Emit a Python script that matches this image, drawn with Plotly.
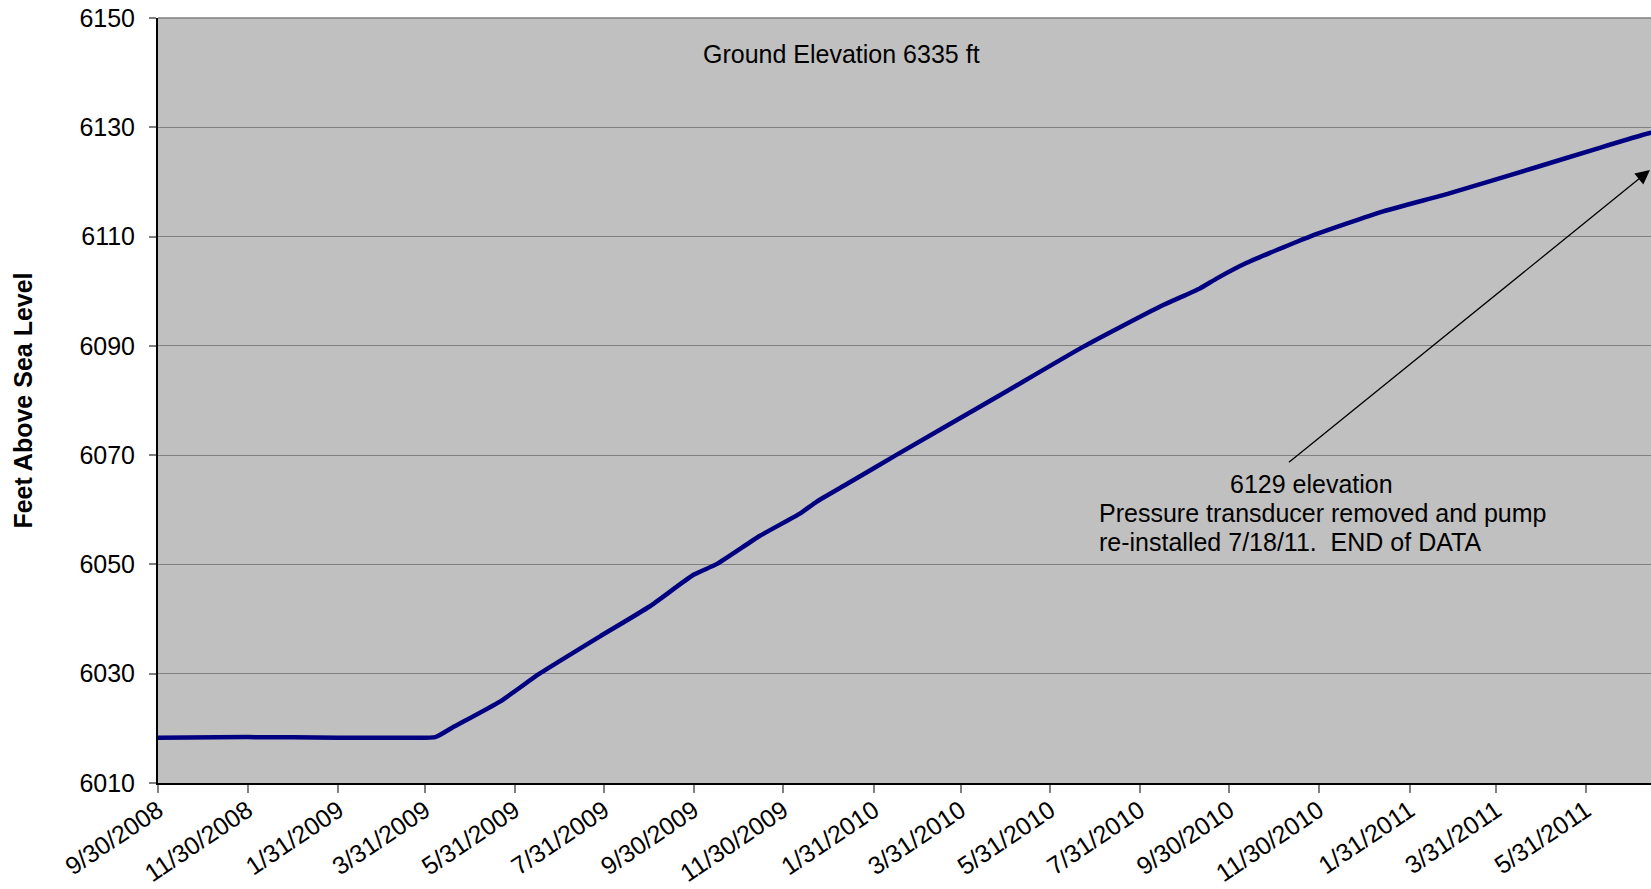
import plotly.graph_objects as go

# Data
dates = [
    "2008-09-30", "2008-11-30", "2009-01-31", "2009-03-15", "2009-04-07",
    "2009-04-19", "2009-05-21", "2009-06-17", "2009-07-28", "2009-08-31",
    "2009-09-30", "2009-10-16", "2009-11-14", "2009-12-12", "2009-12-23",
    "2010-01-13", "2010-02-15", "2010-04-27", "2010-06-23", "2010-08-14",
    "2010-09-10", "2010-09-22", "2010-10-12", "2010-11-24", "2011-01-13",
    "2011-02-27", "2011-04-25", "2011-06-09", "2011-07-13", "2011-07-18",
]
elevation_ft = [
    6018.3, 6018.4, 6018.3, 6018.3, 6018.4,
    6020.2, 6024.9, 6030.0, 6036.8, 6042.3,
    6048.1, 6050.1, 6055.2, 6059.4, 6061.5,
    6064.8, 6070.0, 6081.0, 6089.9, 6097.2,
    6100.5, 6102.4, 6105.2, 6110.0, 6114.6,
    6117.9, 6122.5, 6126.2, 6128.9, 6129.2,
]

x_tick_vals = [
    "2008-09-30", "2008-11-30", "2009-01-31", "2009-03-31", "2009-05-31",
    "2009-07-31", "2009-09-30", "2009-11-30", "2010-01-31", "2010-03-31",
    "2010-05-31", "2010-07-31", "2010-09-30", "2010-11-30", "2011-01-31",
    "2011-03-31", "2011-05-31",
]
x_tick_text = [
    "9/30/2008", "11/30/2008", "1/31/2009", "3/31/2009", "5/31/2009",
    "7/31/2009", "9/30/2009", "11/30/2009", "1/31/2010", "3/31/2010",
    "5/31/2010", "7/31/2010", "9/30/2010", "11/30/2010", "1/31/2011",
    "3/31/2011", "5/31/2011",
]
y_tick_vals = [6010, 6030, 6050, 6070, 6090, 6110, 6130, 6150]

FONT = "Liberation Sans, Arial, sans-serif"

fig = go.Figure()
fig.add_trace(go.Scatter(
    x=dates, y=elevation_ft, mode="lines",
    line=dict(color="#000080", width=4.5, shape="spline", smoothing=0.5),
    showlegend=False, hoverinfo="x+y",
))

fig.update_layout(
    width=1651, height=889,
    margin=dict(l=158, r=0, t=18, b=106, pad=0),
    paper_bgcolor="white",
    plot_bgcolor="#C0C0C0",
    font=dict(family=FONT, size=25, color="black"),
    showlegend=False,
)

fig.update_xaxes(
    type="date",
    range=["2008-09-30", "2011-07-14 12:00"],
    tickmode="array", tickvals=x_tick_vals, ticktext=x_tick_text,
    tickangle=-34,
    ticks="outside", ticklen=8, tickwidth=1.5, tickcolor="#808080",
    tickfont=dict(family=FONT, size=25, color="black"),
    ticklabelstandoff=-7,
    showline=True, linecolor="black", linewidth=2,
    showgrid=False, zeroline=False, automargin=False,
)

fig.update_yaxes(
    range=[6010, 6150],
    tickmode="array", tickvals=y_tick_vals,
    ticks="outside", ticklen=7, tickwidth=1.5, tickcolor="#808080",
    tickfont=dict(family=FONT, size=25, color="black"),
    ticklabelstandoff=9, ticklabeloverflow="allow",
    showline=True, linecolor="black", linewidth=2,
    showgrid=True, gridcolor="#808080", gridwidth=1.2,
    zeroline=False, automargin=False,
    title=dict(text="<b>Feet Above Sea Level</b>",
               font=dict(family=FONT, size=25, color="black"), standoff=40),
)

# top border of the plot area (gray, like the gridlines)
fig.add_shape(type="line", xref="paper", yref="paper", x0=0, x1=1, y0=1, y1=1,
              line=dict(color="#808080", width=1.5), layer="above")

fig.add_annotation(
    text="Ground Elevation 6335 ft", xref="paper", yref="paper",
    x=0.458, y=0.953, xanchor="center", yanchor="middle",
    showarrow=False, font=dict(family=FONT, size=25, color="black"),
)
fig.add_annotation(
    text="6129 elevation", xref="paper", yref="paper",
    x=0.7723, y=0.3915, xanchor="center", yanchor="middle",
    showarrow=False, font=dict(family=FONT, size=25, color="black"),
)
fig.add_annotation(
    text="Pressure transducer removed and pump", xref="paper", yref="paper",
    x=0.629, y=(783 - 512.8) / 765, xanchor="left", yanchor="middle",
    showarrow=False, font=dict(family=FONT, size=25, color="black"),
)
fig.add_annotation(
    text="re-installed 7/18/11. \u00a0END of DATA", xref="paper", yref="paper",
    x=0.629, y=(783 - 542.3) / 765, xanchor="left", yanchor="middle",
    showarrow=False, font=dict(family=FONT, size=25, color="black"),
)
# Arrow pointing to the end of data
fig.add_annotation(
    text="", xref="paper", yref="paper",
    x=0.9993, y=(783 - 170) / 765,
    ax=-362.5, ay=293.5,
    showarrow=True, arrowhead=2, arrowsize=2.2, arrowwidth=1.3,
    arrowcolor="black",
)

fig.write_html(
    "out.html",
    config={"displayModeBar": False},
    post_script="document.body.style.margin='0';document.body.style.overflow='hidden';",
)
